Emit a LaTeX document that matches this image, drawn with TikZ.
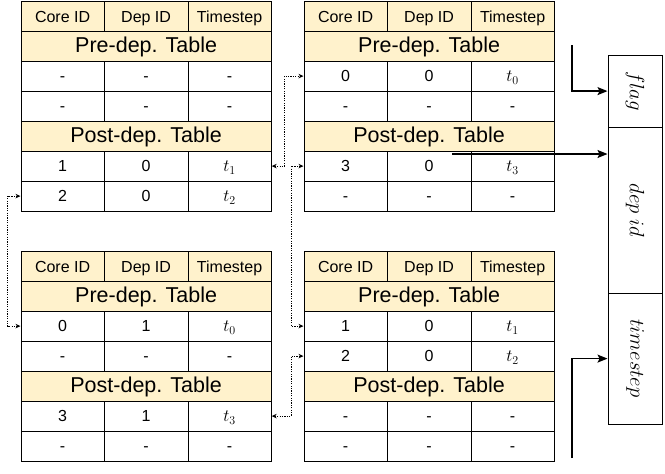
\documentclass[tikz,border=0pt]{standalone}
\usepackage{fontspec}
\setmainfont{Liberation Sans}
\usetikzlibrary{arrows.meta}
\definecolor{hdr}{HTML}{FFF2CC}
\tikzset{
  cell/.style={draw=black, line width=1.2pt, minimum height=30pt, text height=11pt, text depth=0pt,
    inner sep=0pt, anchor=north west, font=\fontsize{16}{18}\selectfont},
  hcell/.style={cell, fill=hdr, text height=12pt},
  wide/.style={draw=black, line width=1.2pt, fill=hdr, minimum width=250pt, minimum height=30pt,
    text height=12pt, text depth=0pt,
    inner sep=0pt, anchor=north west, font=\fontsize{21.5}{24}\selectfont},
  fieldbox/.style={draw=black, line width=1.2pt, minimum width=54pt, inner sep=0pt, anchor=north west},
  fieldlbl/.style={rotate=-90, font=\fontsize{20}{22}\selectfont},
  dotc/.style={line width=0.9pt, dash pattern=on 1.2pt off 1.2pt,
    {Stealth[length=5pt,width=4.5pt]}-{Stealth[length=5pt,width=4.5pt]}},
  feed/.style={line width=1.3pt, -{Stealth[length=10pt,width=8pt,inset=2pt]}},
}
\newcommand\tv[1]{{\fontsize{18}{20}\selectfont$t_{#1}$}}
\newcommand\mktable[4]{%
  \foreach \cl/\cx/\cw/\txt in {0/0/83/Core ID,1/83/84/Dep ID,2/167/83/Timestep}
    \node[hcell, minimum width=\cw pt] (#1-1-\cl) at ({#2+\cx},{#3}) {\txt};
  \node[wide] (#1-2) at (#2,{#3+30}) {Pre-dep. Table};
  \node[wide] (#1-5) at (#2,{#3+120}) {Post-dep. Table};
  \foreach \r/\va/\vb/\vc in {#4} {
    \node[cell, minimum width=83pt] (#1-\r-0) at ({#2},{#3+(\r-1)*30}) {\va};
    \node[cell, minimum width=84pt] (#1-\r-1) at ({#2+83},{#3+(\r-1)*30}) {\vb};
    \node[cell, minimum width=83pt] (#1-\r-2) at ({#2+167},{#3+(\r-1)*30}) {\vc};
  }%
}
\begin{document}
\begin{tikzpicture}[x=1pt,y=-1pt]
\useasboundingbox (0,0) rectangle (665,474);
\fill[white] (0,0) rectangle (665,474);

\mktable{TL}{20.5}{0.5}{3/-/-/-, 4/-/-/-, 6/1/0/\tv1, 7/2/0/\tv2}
\mktable{TR}{303.5}{0.5}{3/0/0/\tv0, 4/-/-/-, 6/3/0/\tv3, 7/-/-/-}
\mktable{BL}{20.5}{250.5}{3/0/1/\tv0, 4/-/-/-, 6/3/1/\tv3, 7/-/-/-}
\mktable{BR}{303.5}{250.5}{3/1/0/\tv1, 4/2/0/\tv2, 6/-/-/-, 7/-/-/-}

% field boxes
\node[fieldbox, minimum height=72pt] (flagbox) at (607.5,54.5) {};
\node[fieldbox, minimum height=166pt] (depbox) at (607.5,126.5) {};
\node[fieldbox, minimum height=131pt] (tsbox) at (607.5,292.5) {};
\node[fieldlbl] (flaglbl) at (flagbox.center) {$flag$};
\node[fieldlbl] (deplbl) at (depbox.center) {$dep\ id$};
\node[fieldlbl] (tslbl) at (tsbox.center) {$timestep$};

% dotted links
\draw[dotc] (TL-7-0.west) -- ++(-13,0) |- (BL-3-0.west);
\draw[dotc] (TL-6-2.east) -| ([xshift=-19pt]TR-3-0.west) -- (TR-3-0.west);
\draw[dotc] (TR-6-0.west) -- ++(-12.5,0) |- (BR-3-0.west);
\draw[dotc] (BL-6-2.east) -| ([xshift=-12.5pt]BR-4-0.west) -- (BR-4-0.west);

% feed arrows
\coordinate (fs) at (572,45);
\coordinate (ds) at (452,154);
\coordinate (ts) at (572,458);
\draw[feed] (fs) |- (flagbox.west);
\draw[feed] (ds) -- (ds -| depbox.west);
\draw[feed] (ts) |- (tsbox.west);
\end{tikzpicture}
\end{document}
